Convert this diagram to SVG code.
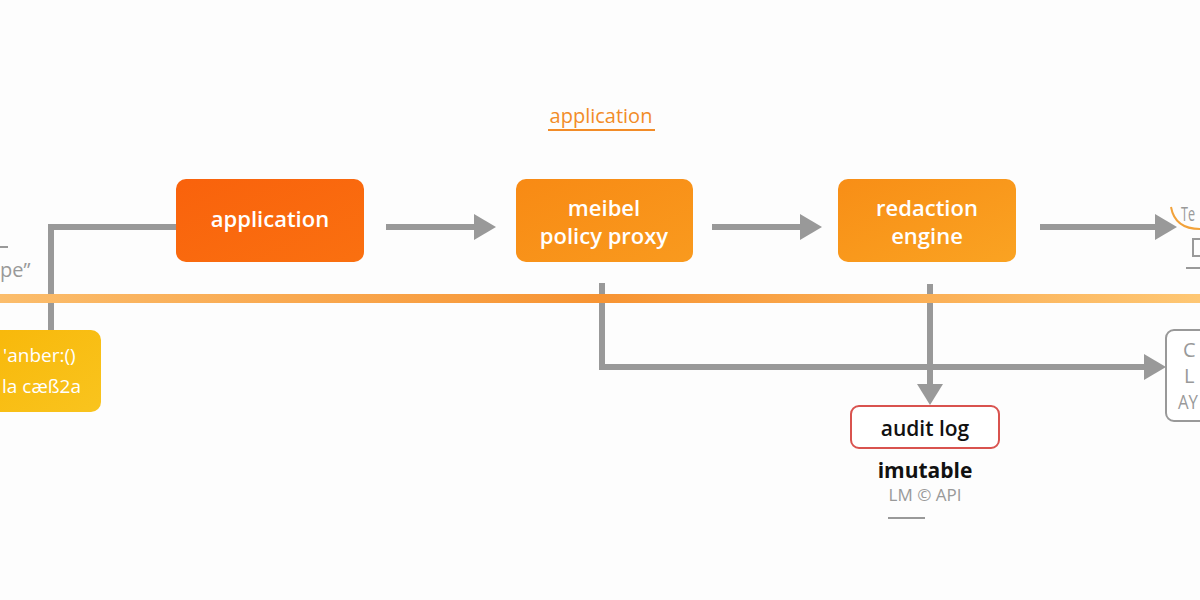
<svg xmlns="http://www.w3.org/2000/svg" width="1200" height="600" viewBox="0 0 1200 600">
<defs>
<style>
.lbl{font-family:"Open Sans","Liberation Sans",sans-serif;font-weight:600;fill:#fff;font-size:22px;text-anchor:middle}
.conn{fill:none;stroke:#999;stroke-width:6}
.head{fill:#999}
.gray{font-family:"Open Sans","Liberation Sans",sans-serif;fill:#999;font-size:20px}
</style>
<linearGradient id="band" x1="0" y1="0" x2="1" y2="0">
<stop offset="0" stop-color="#FBBD6C"/>
<stop offset="0.5" stop-color="#F79433"/>
<stop offset="1" stop-color="#FEC774"/>
</linearGradient>
<linearGradient id="gApp" x1="0" y1="0" x2="1" y2="1">
<stop offset="0" stop-color="#F9620C"/>
<stop offset="1" stop-color="#FA7010"/>
</linearGradient>
<linearGradient id="gProxy" x1="0" y1="0" x2="1" y2="1">
<stop offset="0" stop-color="#F88A14"/>
<stop offset="1" stop-color="#F99A1E"/>
</linearGradient>
<linearGradient id="gRed" x1="0" y1="0" x2="1" y2="1">
<stop offset="0" stop-color="#F88E16"/>
<stop offset="1" stop-color="#FAA322"/>
</linearGradient>
<linearGradient id="gYel" x1="0" y1="0" x2="1" y2="1">
<stop offset="0" stop-color="#F8B80A"/>
<stop offset="1" stop-color="#F9C41E"/>
</linearGradient>
</defs>
<rect width="1200" height="600" fill="#FDFDFD"/>

<g id="connectors">
<polyline class="conn" points="51,332 51,227 176,227"/>
<line class="conn" x1="386" y1="227" x2="478" y2="227"/>
<polygon class="head" points="474,214 496,227 474,240"/>
<line class="conn" x1="712" y1="227" x2="804" y2="227"/>
<polygon class="head" points="800,214 822,227 800,240"/>
<line class="conn" x1="1040" y1="227" x2="1158" y2="227"/>
<polygon class="head" points="1155,214 1177,227 1155,240"/>
<polyline class="conn" points="602,283 602,367 1148,367"/>
<polygon class="head" points="1144,354 1166,367 1144,380"/>
<line class="conn" x1="930" y1="284" x2="930" y2="388"/>
<polygon class="head" points="917,384 930,405 943,384"/>
</g>

<rect id="band-line" x="0" y="294" width="1200" height="9" fill="url(#band)"/>

<g id="title">
<text x="601" y="123" font-family="'Open Sans','Liberation Sans',sans-serif" font-size="20" fill="#F28C28" text-anchor="middle">application</text>
<line x1="548" y1="130" x2="655" y2="130" stroke="#F28C28" stroke-width="2"/>
</g>

<g id="app">
<rect x="176" y="179" width="188" height="83" rx="10" fill="url(#gApp)"/>
<text class="lbl" x="270" y="227">application</text>
</g>

<g id="proxy">
<rect x="516" y="179" width="177" height="83" rx="10" fill="url(#gProxy)"/>
<text class="lbl" x="604" y="216">meibel</text>
<text class="lbl" x="604" y="244">policy proxy</text>
</g>

<g id="redaction">
<rect x="838" y="179" width="178" height="83" rx="10" fill="url(#gRed)"/>
<text class="lbl" x="927" y="216">redaction</text>
<text class="lbl" x="927" y="244">engine</text>
</g>

<g id="left-note">
<line x1="0" y1="247" x2="8" y2="247" stroke="#999" stroke-width="2"/>
<text class="gray" x="0" y="277" font-size="19">pe”</text>
</g>

<g id="yellow">
<rect x="-12" y="330" width="113" height="82" rx="10" fill="url(#gYel)"/>
<text x="3" y="362" font-family="'Open Sans','Liberation Sans',sans-serif" font-size="19" fill="#fff">'anber:()</text>
<text x="2" y="393" font-family="'Open Sans','Liberation Sans',sans-serif" font-size="19" fill="#fff">la cæß2a</text>
</g>

<g id="right-top">
<path d="M1171,207 Q1175,229 1200,229" fill="none" stroke="#F2A23A" stroke-width="2"/>
<text class="gray" x="1181" y="221" font-size="14" textLength="14" lengthAdjust="spacingAndGlyphs">Te</text>
<path d="M1200,239 L1193,239 L1193,256 L1200,256" fill="none" stroke="#999" stroke-width="2"/>
<line x1="1186" y1="268" x2="1200" y2="268" stroke="#999" stroke-width="2"/>
</g>

<g id="right-box">
<rect x="1166" y="330" width="50" height="91" rx="8" fill="#fff" stroke="#999" stroke-width="2"/>
<text class="gray" x="1183" y="357" font-size="20">C</text>
<text class="gray" x="1184" y="383" font-size="20">L</text>
<text class="gray" x="1178" y="409" font-size="17" textLength="20" lengthAdjust="spacingAndGlyphs">AY</text>
</g>

<g id="audit">
<rect x="851" y="406" width="148" height="42" rx="8" fill="#fff" stroke="#D9534F" stroke-width="2"/>
<text x="925" y="436" font-family="'Open Sans','Liberation Sans',sans-serif" font-weight="600" font-size="21" fill="#111" text-anchor="middle">audit log</text>
<text x="925" y="478" font-family="'Open Sans','Liberation Sans',sans-serif" font-weight="700" font-size="21" fill="#111" text-anchor="middle">imutable</text>
<text x="925" y="501" font-family="'Open Sans','Liberation Sans',sans-serif" font-size="17" fill="#999" text-anchor="middle">LM © API</text>
<line x1="888" y1="518" x2="925" y2="518" stroke="#999" stroke-width="2"/>
</g>
</svg>
